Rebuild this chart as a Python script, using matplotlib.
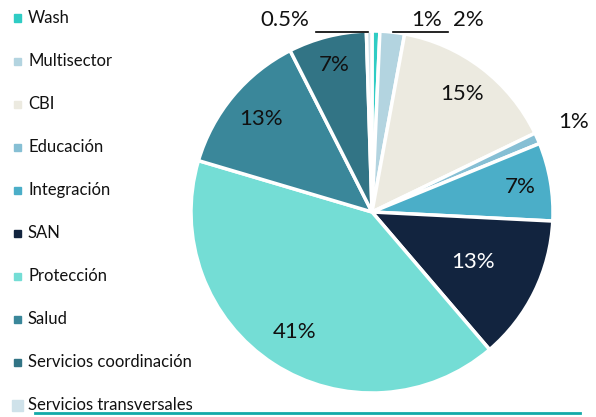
import matplotlib
matplotlib.use("Agg")
import matplotlib.pyplot as plt
import numpy as np
from matplotlib.patches import Rectangle
from matplotlib.lines import Line2D

categories = ["Wash", "Multisector", "CBI", "Educación", "Integración", "SAN",
              "Protección", "Salud", "Servicios coordinación", "Servicios transversales"]
values = [0.7, 2.2, 15, 1, 7, 13, 41, 13, 7, 0.5]
pct_labels = ["1%", "2%", "15%", "1%", "7%", "13%", "41%", "13%", "7%", "0.5%"]
colors = ["#2FCCC4", "#B3D4E0", "#ECEAE0", "#86BFD4", "#4BAEC8", "#12243F",
          "#74DDD5", "#3A879A", "#327485", "#CFE2EA"]

FONT = "Lato"
W, H = 596, 417
fig = plt.figure(figsize=(W / 100, H / 100), dpi=100)

cx, cy, R = 372, 212, 181
ax = fig.add_axes([(cx - R) / W, (H - cy - R) / H, 2 * R / W, 2 * R / H])
wedges, _ = ax.pie(values, colors=colors, startangle=90, counterclock=False,
                   radius=1, wedgeprops=dict(edgecolor="white", linewidth=2.5))
ax.set_xlim(-1, 1)
ax.set_ylim(-1, 1)
ax.set_aspect("equal")
ax.axis("off")

PCT_FS = 16
# percentage labels: radius factors for inside/outside labels
label_r = [None, None, 0.82, 1.22, 0.83, 0.62, 0.79, 0.80, 0.84, None]
label_c = ["#111111"] * 5 + ["white"] + ["#111111"] * 4
for w, lab, r, c in zip(wedges, pct_labels, label_r, label_c):
    if r is None:
        continue
    ang = np.deg2rad((w.theta1 + w.theta2) / 2)
    ax.text(r * np.cos(ang), r * np.sin(ang), lab, ha="center", va="center",
            fontsize=PCT_FS, family=FONT, color=c, clip_on=False)

def px(x, y):
    return ((x - cx) / R, (cy - y) / R)

# top small-slice labels with leader lines
for lab, (tx, ty) in zip([pct_labels[9], pct_labels[0], pct_labels[1]],
                         [(285, 20), (427, 20), (468, 20)]):
    ax.text(*px(tx, ty), lab, ha="center", va="center", fontsize=PCT_FS,
            family=FONT, color="#111111", clip_on=False)
for (x0, x1) in [(316, 368), (393, 448)]:
    a = px(x0, 32); b = px(x1, 32)
    ax.add_line(Line2D([a[0], b[0]], [a[1], b[1]], color="black", lw=1.2, clip_on=False))

# legend (manual)
y0, dy = 18, 43
for i, (cat, c) in enumerate(zip(categories, colors)):
    y = y0 + i * dy
    s = 7 if i < len(categories) - 1 else 11
    fig.patches.append(Rectangle(((17 - s / 2) / W, (H - y - s / 2) / H), s / W, s / H,
                                 transform=fig.transFigure, color=c))
    fig.text(28 / W, (H - y) / H, cat, ha="left", va="center", fontsize=12,
             family=FONT, color="#111111")

fig.add_artist(Line2D([35 / W, 580 / W], [(H - 413) / H] * 2, color="#14A9A8",
                      lw=2, transform=fig.transFigure))

fig.savefig("out.png", dpi=100)
